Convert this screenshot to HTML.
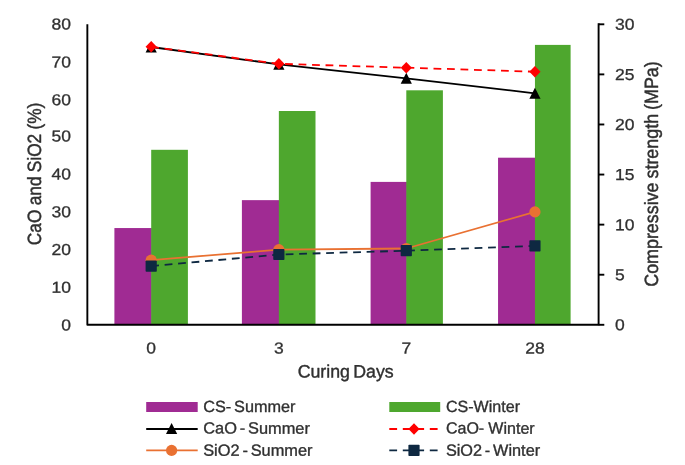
<!DOCTYPE html>
<html lang="en"><head><meta charset="utf-8"><title>Chart</title>
<style>html,body{margin:0;padding:0;background:#fff;overflow:hidden}svg{display:block;filter:blur(0.4px)}</style></head>
<body>
<svg width="685" height="465" viewBox="0 0 685 465" font-family="'Liberation Sans', Arial, sans-serif" font-size="17.5" fill="#303030" stroke="#303030" stroke-width="0.3" stroke-linejoin="round" text-rendering="geometricPrecision">
<rect width="685" height="465" fill="#fff" stroke="none"/>
<rect x="114.40" y="228.05" width="37.40" height="96.75" fill="#a02b93" stroke="none"/>
<rect x="151.20" y="149.8" width="36.70" height="175.00" fill="#4ea72e" stroke="none"/>
<rect x="241.90" y="200.15" width="37.55" height="124.65" fill="#a02b93" stroke="none"/>
<rect x="278.85" y="111.0" width="36.65" height="213.80" fill="#4ea72e" stroke="none"/>
<rect x="370.60" y="181.9" width="36.30" height="142.90" fill="#a02b93" stroke="none"/>
<rect x="406.30" y="90.3" width="36.60" height="234.50" fill="#4ea72e" stroke="none"/>
<rect x="498.05" y="157.7" width="37.50" height="167.10" fill="#a02b93" stroke="none"/>
<rect x="534.95" y="44.9" width="35.65" height="279.90" fill="#4ea72e" stroke="none"/>
<path d="M87.35 24.3 V324.8 H598.6 V23.3" fill="none" stroke="#000" stroke-width="1.9" stroke-linejoin="round"/>
<path d="M598.6 324.80 H604.3" stroke="#000" stroke-width="1.9"/>
<text transform="translate(615.00 330.30) rotate(0.03)" font-size="15.9" textLength="9.73" lengthAdjust="spacingAndGlyphs">0</text>
<path d="M598.6 274.72 H604.3" stroke="#000" stroke-width="1.9"/>
<text transform="translate(615.00 280.22) rotate(0.03)" font-size="15.9" textLength="9.73" lengthAdjust="spacingAndGlyphs">5</text>
<path d="M598.6 224.63 H604.3" stroke="#000" stroke-width="1.9"/>
<text transform="translate(615.00 230.13) rotate(0.03)" font-size="15.9" textLength="19.46" lengthAdjust="spacingAndGlyphs">10</text>
<path d="M598.6 174.55 H604.3" stroke="#000" stroke-width="1.9"/>
<text transform="translate(615.00 180.05) rotate(0.03)" font-size="15.9" textLength="19.46" lengthAdjust="spacingAndGlyphs">15</text>
<path d="M598.6 124.47 H604.3" stroke="#000" stroke-width="1.9"/>
<text transform="translate(615.00 129.97) rotate(0.03)" font-size="15.9" textLength="19.46" lengthAdjust="spacingAndGlyphs">20</text>
<path d="M598.6 74.38 H604.3" stroke="#000" stroke-width="1.9"/>
<text transform="translate(615.00 79.88) rotate(0.03)" font-size="15.9" textLength="19.46" lengthAdjust="spacingAndGlyphs">25</text>
<path d="M598.6 24.30 H604.3" stroke="#000" stroke-width="1.9"/>
<text transform="translate(615.00 29.80) rotate(0.03)" font-size="15.9" textLength="19.46" lengthAdjust="spacingAndGlyphs">30</text>
<text transform="translate(61.27 330.50) rotate(0.03)" font-size="15.9" textLength="9.73" lengthAdjust="spacingAndGlyphs">0</text>
<text transform="translate(51.54 292.80) rotate(0.03)" font-size="15.9" textLength="19.46" lengthAdjust="spacingAndGlyphs">10</text>
<text transform="translate(51.54 255.00) rotate(0.03)" font-size="15.9" textLength="19.46" lengthAdjust="spacingAndGlyphs">20</text>
<text transform="translate(51.54 217.20) rotate(0.03)" font-size="15.9" textLength="19.46" lengthAdjust="spacingAndGlyphs">30</text>
<text transform="translate(51.54 179.40) rotate(0.03)" font-size="15.9" textLength="19.46" lengthAdjust="spacingAndGlyphs">40</text>
<text transform="translate(51.54 141.60) rotate(0.03)" font-size="15.9" textLength="19.46" lengthAdjust="spacingAndGlyphs">50</text>
<text transform="translate(51.54 105.20) rotate(0.03)" font-size="15.9" textLength="19.46" lengthAdjust="spacingAndGlyphs">60</text>
<text transform="translate(51.54 67.40) rotate(0.03)" font-size="15.9" textLength="19.46" lengthAdjust="spacingAndGlyphs">70</text>
<text transform="translate(51.54 29.60) rotate(0.03)" font-size="15.9" textLength="19.46" lengthAdjust="spacingAndGlyphs">80</text>
<text transform="translate(146.33 353.50) rotate(0.03)" font-size="15.9" textLength="9.73" lengthAdjust="spacingAndGlyphs">0</text>
<text transform="translate(273.99 353.50) rotate(0.03)" font-size="15.9" textLength="9.73" lengthAdjust="spacingAndGlyphs">3</text>
<text transform="translate(401.44 353.50) rotate(0.03)" font-size="15.9" textLength="9.73" lengthAdjust="spacingAndGlyphs">7</text>
<text transform="translate(525.22 353.50) rotate(0.03)" font-size="15.9" textLength="19.46" lengthAdjust="spacingAndGlyphs">28</text>
<text transform="translate(345.7 377.6) rotate(0.03)" font-size="18" stroke-width="0.4" text-anchor="middle" word-spacing="-1.6" textLength="96.1" lengthAdjust="spacingAndGlyphs">Curing Days</text>
<text transform="translate(40.7,173.9) rotate(-89.97)" font-size="19.2" stroke-width="0.45" text-anchor="middle" word-spacing="-0.6" textLength="142.5" lengthAdjust="spacingAndGlyphs">CaO and SiO2 (%)</text>
<text transform="translate(658.35,174) rotate(-89.97)" font-size="19.2" stroke-width="0.45" text-anchor="middle" word-spacing="-1" textLength="225.5" lengthAdjust="spacingAndGlyphs">Compressive strength (MPa)</text>
<polyline points="151.20,47.0 278.85,64.4 406.30,78.4 534.95,93.3" fill="none" stroke="#000" stroke-width="1.8"/>
<path d="M151.20 41.40 l5.6 11 h-11.2z" fill="#000" stroke="none"/>
<path d="M278.85 58.80 l5.6 11 h-11.2z" fill="#000" stroke="none"/>
<path d="M406.30 72.80 l5.6 11 h-11.2z" fill="#000" stroke="none"/>
<path d="M534.95 87.70 l5.6 11 h-11.2z" fill="#000" stroke="none"/>
<polyline points="151.20,46.8 278.85,63.8 406.30,67.7 534.95,71.7" fill="none" stroke="#ff0000" stroke-width="1.8" stroke-dasharray="7.8 5.7"/>
<path d="M151.20 41.00 l5.6 5.8 l-5.6 5.8 l-5.6 -5.8z" fill="#ff0000" stroke="none"/>
<path d="M278.85 58.00 l5.6 5.8 l-5.6 5.8 l-5.6 -5.8z" fill="#ff0000" stroke="none"/>
<path d="M406.30 61.90 l5.6 5.8 l-5.6 5.8 l-5.6 -5.8z" fill="#ff0000" stroke="none"/>
<path d="M534.95 65.90 l5.6 5.8 l-5.6 5.8 l-5.6 -5.8z" fill="#ff0000" stroke="none"/>
<polyline points="151.20,260.2 278.85,249.6 406.30,248.5 534.95,211.9" fill="none" stroke="#e97132" stroke-width="1.8"/>
<circle cx="151.20" cy="260.20" r="5.6" fill="#e97132" stroke="none"/>
<circle cx="278.85" cy="249.60" r="5.6" fill="#e97132" stroke="none"/>
<circle cx="406.30" cy="248.50" r="5.6" fill="#e97132" stroke="none"/>
<circle cx="534.95" cy="211.90" r="5.6" fill="#e97132" stroke="none"/>
<polyline points="151.20,266.1 278.85,254.5 406.30,250.7 534.95,245.9" fill="none" stroke="#0e2841" stroke-width="1.8" stroke-dasharray="7.8 5.7"/>
<rect x="145.60" y="260.50" width="11.2" height="11.2" rx="0.8" fill="#0e2841" stroke="none"/>
<rect x="273.25" y="248.90" width="11.2" height="11.2" rx="0.8" fill="#0e2841" stroke="none"/>
<rect x="400.70" y="245.10" width="11.2" height="11.2" rx="0.8" fill="#0e2841" stroke="none"/>
<rect x="529.35" y="240.30" width="11.2" height="11.2" rx="0.8" fill="#0e2841" stroke="none"/>
<rect x="146.2" y="402" width="51.5" height="10" fill="#a02b93" stroke="none"/>
<rect x="389.3" y="402" width="50.9" height="10" fill="#4ea72e" stroke="none"/>
<path d="M146.2 429.0 H197.7" stroke="#000" stroke-width="1.8"/><path d="M171.60 423.00 l5.6 11 h-11.2z" fill="#000" stroke="none"/>
<path d="M389.3 429.0 H440.2" stroke="#ff0000" stroke-width="1.8" stroke-dasharray="7.8 5.7"/><path d="M414.00 423.20 l5.6 5.8 l-5.6 5.8 l-5.6 -5.8z" fill="#ff0000" stroke="none"/>
<path d="M146.2 450.4 H197.7" stroke="#e97132" stroke-width="1.8"/><circle cx="171.60" cy="450.40" r="5.6" fill="#e97132" stroke="none"/>
<path d="M389.3 450.4 H440.2" stroke="#0e2841" stroke-width="1.8" stroke-dasharray="7.8 5.7"/><rect x="408.40" y="444.80" width="11.2" height="11.2" rx="0.8" fill="#0e2841" stroke="none"/>
<text transform="translate(203.2 411.95) rotate(0.03)" font-size="16.2" stroke-width="0.35" word-spacing="-1.7" textLength="92.3" lengthAdjust="spacingAndGlyphs">CS- Summer</text>
<text transform="translate(203.2 433.6) rotate(0.03)" font-size="16.2" stroke-width="0.35" word-spacing="-1.7" textLength="106.7" lengthAdjust="spacingAndGlyphs">CaO - Summer</text>
<text transform="translate(203.2 455.7) rotate(0.03)" font-size="16.2" stroke-width="0.35" word-spacing="-1.7" textLength="109.3" lengthAdjust="spacingAndGlyphs">SiO2 - Summer</text>
<text transform="translate(445.9 411.95) rotate(0.03)" font-size="16.2" stroke-width="0.35" word-spacing="0" textLength="74.1" lengthAdjust="spacingAndGlyphs">CS-Winter</text>
<text transform="translate(445.9 433.6) rotate(0.03)" font-size="16.2" stroke-width="0.35" word-spacing="-0.3" textLength="88.8" lengthAdjust="spacingAndGlyphs">CaO- Winter</text>
<text transform="translate(445.9 455.7) rotate(0.03)" font-size="16.2" stroke-width="0.35" word-spacing="-1.7" textLength="94.2" lengthAdjust="spacingAndGlyphs">SiO2 - Winter</text>
</svg>
</body></html>
